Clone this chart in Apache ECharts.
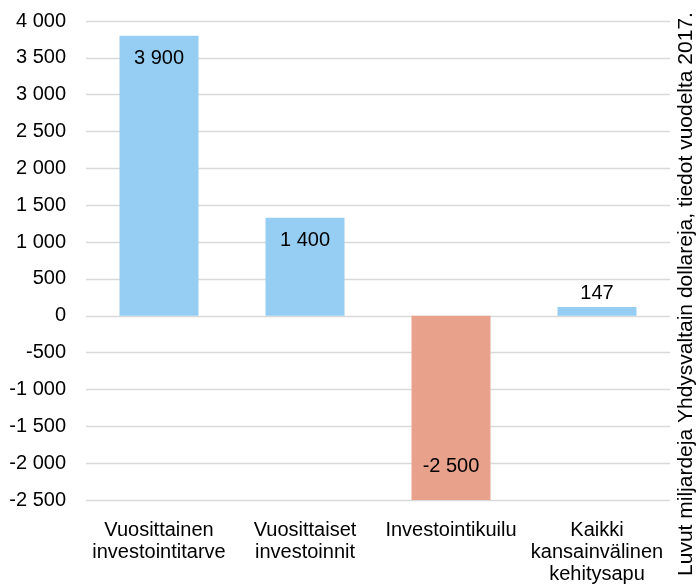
<!DOCTYPE html>
<html>
<head>
<meta charset="utf-8">
<script src="https://cdn.jsdelivr.net/npm/echarts@6/dist/echarts.min.js"></script>
<style>html,body{margin:0;padding:0;background:#fff;}#c{width:697px;height:585px;}</style>
</head>
<body>
<div id="c"></div>
<script>
const categories = ["Vuosittainen\ninvestointitarve", "Vuosittaiset\ninvestoinnit", "Investointikuilu", "Kaikki\nkansainvälinen\nkehitysapu"];
const values = [3800, 1330, -2500, 120];
const valueLabels = ["3 900", "1 400", "-2 500", "147"];
const barColors = ["#95CEF2", "#95CEF2", "#E8A18A", "#95CEF2"];
const labelPositions = ["insideTop", "insideTop", "insideBottom", "top"];
const labelDistances = [13, 13, 24, 3];
const sideNote = "Luvut miljardeja Yhdysvaltain dollareja, tiedot vuodelta 2017.";

function fmt(v) {
  const s = Math.abs(v).toString().replace(/\B(?=(\d{3})+(?!\d))/g, " ");
  return (v < 0 ? "-" : "") + s;
}

const FF = "Liberation Sans, Arial, sans-serif";
const chart = echarts.init(document.getElementById('c'));
chart.setOption({
  animation: false,
  textStyle: { fontFamily: FF },
  grid: { left: 86, right: 27, top: 21, bottom: 85, containLabel: false },
  xAxis: {
    type: 'category',
    data: categories,
    axisLine: { show: false },
    axisTick: { show: false },
    axisLabel: { color: '#000', fontSize: 20, lineHeight: 22, margin: 19, interval: 0, fontFamily: FF }
  },
  yAxis: {
    type: 'value',
    min: -2500, max: 4000, interval: 500,
    axisLine: { show: false },
    axisTick: { show: false },
    splitLine: { lineStyle: { color: '#d9d9d9', width: 1.3 } },
    axisLabel: { color: '#000', fontSize: 20, margin: 20, formatter: fmt, fontFamily: FF }
  },
  series: [{
    type: 'bar',
    barWidth: 79,
    data: values.map((v, i) => ({
      value: v,
      itemStyle: { color: barColors[i] },
      label: {
        show: true,
        position: labelPositions[i],
        distance: labelDistances[i],
        formatter: valueLabels[i],
        color: '#000',
        fontSize: 20,
        fontFamily: FF
      }
    }))
  }],
  graphic: [{
    type: 'text',
    x: 686, y: 294,
    rotation: Math.PI / 2,
    style: {
      text: sideNote,
      fill: '#000',
      fontSize: 21,
      fontFamily: FF,
      textAlign: 'center',
      textVerticalAlign: 'middle'
    }
  }]
});
</script>
</body>
</html>
